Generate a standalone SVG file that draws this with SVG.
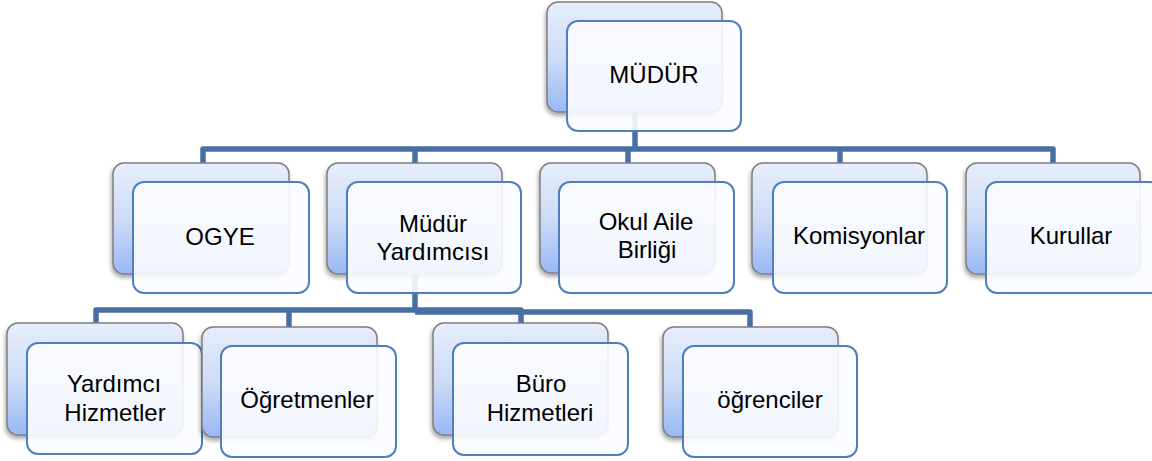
<svg xmlns="http://www.w3.org/2000/svg" width="1152" height="461" viewBox="0 0 1152 461">
<defs>
<linearGradient id="bg" x1="0" y1="0" x2="0" y2="1">
<stop offset="0" stop-color="#e6edfb"/>
<stop offset="0.5" stop-color="#cfdcf7"/>
<stop offset="1" stop-color="#98b8f4"/>
</linearGradient>
<filter id="sh" x="-10%" y="-10%" width="125%" height="130%">
<feDropShadow dx="-1" dy="3" stdDeviation="2" flood-color="#000" flood-opacity="0.35"/>
</filter>
</defs>
<style>
.back{fill:url(#bg);stroke:#7f7f7f;stroke-width:1.5;filter:url(#sh)}
.front{fill:#fbfcff;fill-opacity:0.9;stroke:#4f7fbb;stroke-width:2}
.t{font-family:"Liberation Sans",Arial,sans-serif;font-size:24px;fill:#000;text-anchor:middle}
.c{fill:none;stroke:#476fa4;stroke-width:5.5;stroke-linejoin:round}
</style>
<g id="connectors">
<path class="c" d="M635 112 V149"/>
<path class="c" d="M203 163 V149 H1053 V163"/>
<path class="c" d="M415 149 V163"/>
<path class="c" d="M628 149 V163"/>
<path class="c" d="M840 149 V163"/>
<path class="c" d="M415 273 V310"/>
<path class="c" d="M96 323 V310 H521 V323"/>
<path class="c" d="M289 310 V327"/>
<path class="c" d="M415 312 H750 V327"/>
</g>
<g id="mudur">
<rect class="back" x="547" y="2" width="175" height="110" rx="11"/>
<rect class="front" x="567" y="21" width="174" height="110" rx="11"/>
<text class="t" x="654" y="83">MÜDÜR</text>
</g>
<g id="ogye">
<rect class="back" x="113" y="163" width="176" height="111" rx="11"/>
<rect class="front" x="133" y="182" width="176" height="111" rx="11"/>
<text class="t" x="220" y="245">OGYE</text>
</g>
<g id="mudur-yardimcisi">
<rect class="back" x="327" y="163" width="175" height="111" rx="11"/>
<rect class="front" x="347" y="182" width="174" height="111" rx="11"/>
<text class="t" x="433" y="232">Müdür</text>
<text class="t" x="433" y="260">Yardımcısı</text>
</g>
<g id="okul-aile-birligi">
<rect class="back" x="540" y="163" width="175" height="110" rx="11"/>
<rect class="front" x="559" y="182" width="175" height="111" rx="11"/>
<text class="t" x="646" y="230">Okul Aile</text>
<text class="t" x="647" y="258">Birliği</text>
</g>
<g id="komisyonlar">
<rect class="back" x="752" y="163" width="175" height="111" rx="11"/>
<rect class="front" x="773" y="182" width="174" height="111" rx="11"/>
<text class="t" x="859" y="244">Komisyonlar</text>
</g>
<g id="kurullar">
<rect class="back" x="966" y="163" width="174" height="111" rx="11"/>
<rect class="front" x="986" y="182" width="175" height="111" rx="11"/>
<text class="t" x="1071" y="244">Kurullar</text>
</g>
<g id="yardimci-hizmetler">
<rect class="back" x="7" y="323" width="176" height="112" rx="11"/>
<rect class="front" x="27" y="343" width="175" height="111" rx="11"/>
<text class="t" x="114" y="392">Yardımcı</text>
<text class="t" x="115" y="421">Hizmetler</text>
</g>
<g id="ogretmenler">
<rect class="back" x="202" y="327" width="175" height="110" rx="11"/>
<rect class="front" x="221" y="346" width="175" height="111" rx="11"/>
<text class="t" x="307" y="408">Öğretmenler</text>
</g>
<g id="buro-hizmetleri">
<rect class="back" x="433" y="323" width="175" height="112" rx="11"/>
<rect class="front" x="453" y="343" width="175" height="112" rx="11"/>
<text class="t" x="541" y="392">Büro</text>
<text class="t" x="540" y="421">Hizmetleri</text>
</g>
<g id="ogrenciler">
<rect class="back" x="663" y="327" width="175" height="110" rx="11"/>
<rect class="front" x="683" y="346" width="174" height="111" rx="11"/>
<text class="t" x="770" y="408">öğrenciler</text>
</g>
</svg>
